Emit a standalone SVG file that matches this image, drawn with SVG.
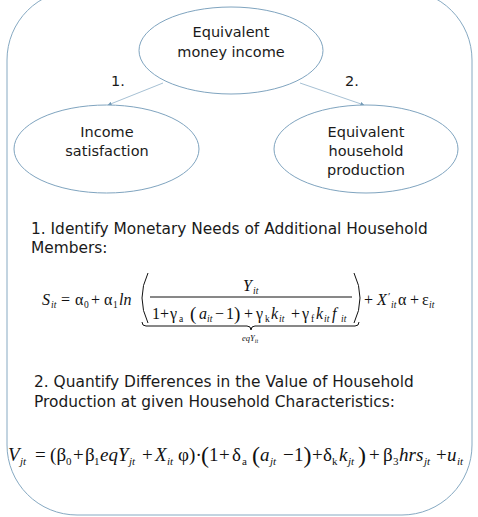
<svg xmlns="http://www.w3.org/2000/svg" width="478" height="517" viewBox="0 0 478 517">
<style>
.frame{fill:none;stroke:#86a9c2;stroke-width:1}
.node{fill:#fff;stroke:#7fa4bf;stroke-width:1}
.lbl{font-family:"DejaVu Sans",sans-serif;font-size:14.5px;fill:#1a1a1a;text-anchor:middle}
.sec{font-family:"DejaVu Sans",sans-serif;font-size:15.4px;fill:#1a1a1a}
.conn{stroke:#8fb0c8;stroke-width:0.8;fill:none}
.m{font-family:"Liberation Serif","Times New Roman",serif;fill:#111}
.i{font-style:italic}
.s{font-size:9.5px}
.s2{font-size:11px}
.ln{stroke:#111;stroke-width:1;fill:none}
</style>
<defs>
<marker id="ah" viewBox="0 0 10 10" refX="9" refY="5" markerWidth="5" markerHeight="5" orient="auto">
<path d="M0,0 L10,5 L0,10 z" fill="#6f97b4"/>
</marker>
</defs>
<rect class="frame" x="7" y="-10" width="465" height="525" rx="70" ry="70"/>
<g id="connectors">
<line class="conn" x1="163" y1="83" x2="108" y2="105" marker-end="url(#ah)"/>
<line class="conn" x1="300" y1="83" x2="364" y2="105" marker-end="url(#ah)"/>
<text class="lbl" x="118" y="86">1.</text>
<text class="lbl" x="352" y="86">2.</text>
</g>
<g id="money">
<ellipse class="node" cx="231" cy="50.5" rx="92" ry="43.5"/>
<text class="lbl" x="231" y="37">Equivalent</text>
<text class="lbl" x="231" y="57">money income</text>
</g>
<g id="satisfaction">
<ellipse class="node" cx="106.5" cy="149" rx="92.5" ry="44"/>
<text class="lbl" x="107" y="137">Income</text>
<text class="lbl" x="107" y="156">satisfaction</text>
</g>
<g id="production">
<ellipse class="node" cx="366" cy="149" rx="92" ry="44"/>
<text class="lbl" x="366" y="137">Equivalent</text>
<text class="lbl" x="366" y="156">household</text>
<text class="lbl" x="366" y="175">production</text>
</g>
<g id="step1">
<text class="sec" x="31" y="234">1. Identify Monetary Needs of Additional Household</text>
<text class="sec" x="31" y="253">Members:</text>
<text class="m" font-size="16">
<tspan class="i" x="42" y="305">S</tspan><tspan class="i s" x="51" y="308">it</tspan>
<tspan x="61" y="305">=</tspan>
<tspan x="75" y="305">α</tspan><tspan class="s" x="84" y="308">0</tspan>
<tspan x="91" y="305">+</tspan>
<tspan x="104" y="305">α</tspan><tspan class="s" x="113" y="308">1</tspan>
<tspan class="i" x="119" y="305">ln</tspan>
<tspan class="i" x="243" y="291">Y</tspan><tspan class="i s" x="253" y="294">it</tspan>
<tspan x="152" y="319">1</tspan>
<tspan x="160" y="319">+</tspan>
<tspan x="170" y="319">γ</tspan><tspan class="s" x="179" y="322">a</tspan>
<tspan x="190" y="320" font-size="19">(</tspan>
<tspan class="i" x="199" y="319">a</tspan><tspan class="i s" x="207" y="322">it</tspan>
<tspan x="215" y="319">−</tspan>
<tspan x="226" y="319">1</tspan>
<tspan x="234" y="320" font-size="19">)</tspan>
<tspan x="244" y="319">+</tspan>
<tspan x="256" y="319">γ</tspan><tspan class="s" x="265" y="322">k</tspan>
<tspan class="i" x="271" y="319">k</tspan><tspan class="i s" x="279" y="322">it</tspan>
<tspan x="291" y="319">+</tspan>
<tspan x="302" y="319">γ</tspan><tspan class="s" x="311" y="322">f</tspan>
<tspan class="i" x="316" y="319">k</tspan><tspan class="i s" x="324" y="322">it</tspan>
<tspan class="i" x="332" y="319">f</tspan><tspan class="i s" x="341" y="322">it</tspan>
<tspan x="364" y="305">+</tspan>
<tspan class="i" x="377" y="305">X</tspan><tspan x="388" y="300" font-size="11">′</tspan><tspan class="i s" x="391" y="308">it</tspan>
<tspan x="398" y="305">α</tspan>
<tspan x="410" y="305">+</tspan>
<tspan x="422" y="305">ε</tspan><tspan class="i s" x="429" y="308">it</tspan>
</text>
<line class="ln" x1="150" y1="297" x2="352" y2="297"/>
<path class="ln" stroke-width="1.2" d="M148,273 Q136,298 148,323"/>
<path class="ln" stroke-width="1.2" d="M354,273 Q366,298 354,323"/>
<path class="ln" stroke-width="0.9" d="M142,322 Q142,326 146,326 L247,326 Q251,326 251,330 Q251,326 255,326 L355,326 Q359,326 359,322"/>
<text class="m i" font-size="8.5" x="242" y="341">eqY<tspan font-size="6" dy="2">it</tspan></text>
</g>
<g id="step2">
<text class="sec" x="34" y="387">2. Quantify Differences in the Value of Household</text>
<text class="sec" x="34" y="407">Production at given Household Characteristics:</text>
<text class="m" font-size="19">
<tspan class="i" x="8" y="461">V</tspan><tspan class="i s2" x="20" y="465">jt</tspan>
<tspan x="35" y="461">=</tspan>
<tspan x="50" y="461">(</tspan>
<tspan x="56.5" y="461">β</tspan><tspan class="s2" x="66" y="465">0</tspan>
<tspan x="73" y="461">+</tspan>
<tspan x="85" y="461">β</tspan><tspan class="s2" x="94" y="465">1</tspan>
<tspan class="i" x="100" y="461">eqY</tspan><tspan class="i s2" x="129" y="465">jt</tspan>
<tspan x="142" y="461">+</tspan>
<tspan class="i" x="155" y="461">X</tspan><tspan class="i s2" x="167" y="465">it</tspan>
<tspan x="178" y="461">φ</tspan>
<tspan x="189" y="461">)</tspan>
<tspan x="195.5" y="461">·</tspan>
<tspan x="201" y="463" font-size="24">(</tspan>
<tspan x="209" y="461">1</tspan>
<tspan x="219" y="461">+</tspan>
<tspan x="232" y="461">δ</tspan><tspan class="s2" x="242" y="465">a</tspan>
<tspan x="252" y="463" font-size="24">(</tspan>
<tspan class="i" x="260" y="461">a</tspan><tspan class="i s2" x="270" y="465">jt</tspan>
<tspan x="283" y="461">−</tspan>
<tspan x="294" y="461">1</tspan>
<tspan x="303.5" y="463" font-size="24">)</tspan>
<tspan x="312" y="461">+</tspan>
<tspan x="323" y="461">δ</tspan><tspan class="s2" x="332" y="465">k</tspan>
<tspan class="i" x="339" y="461">k</tspan><tspan class="i s2" x="348" y="465">jt</tspan>
<tspan x="358" y="463" font-size="24">)</tspan>
<tspan x="369" y="461">+</tspan>
<tspan x="383" y="461">β</tspan><tspan class="s2" x="393" y="465">3</tspan>
<tspan class="i" x="399" y="461">hrs</tspan><tspan class="i s2" x="424" y="465">jt</tspan>
<tspan x="436" y="461">+</tspan>
<tspan class="i" x="447" y="461">u</tspan><tspan class="i s2" x="457" y="465">it</tspan>
</text>
</g>
</svg>
